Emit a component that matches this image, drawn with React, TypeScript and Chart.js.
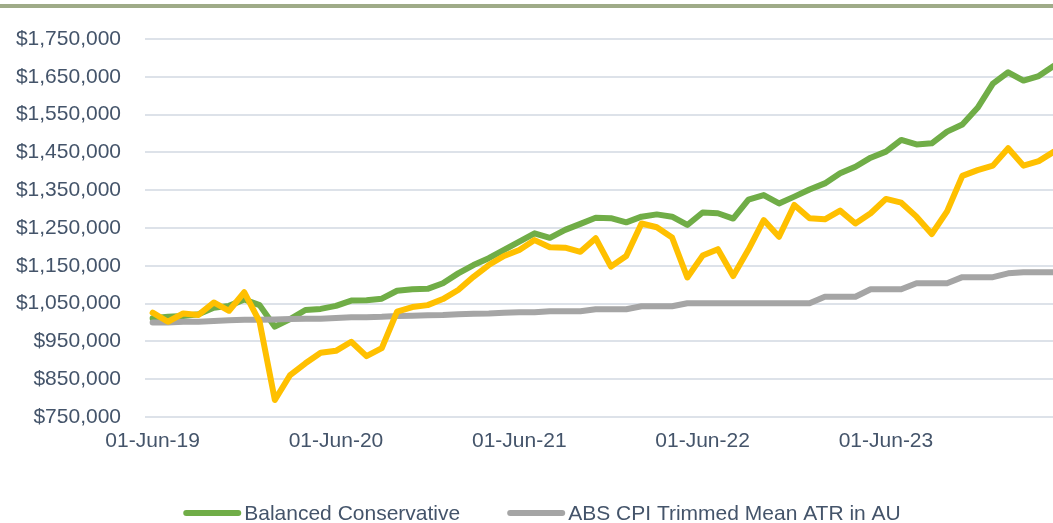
import React, { useEffect, useRef } from 'react';
import { Chart, registerables } from 'chart.js';

Chart.register(...registerables);

const categories = [
  '01-Jun-19', '01-Jul-19', '01-Aug-19', '01-Sep-19', '01-Oct-19', '01-Nov-19', '01-Dec-19',
  '01-Jan-20', '01-Feb-20', '01-Mar-20', '01-Apr-20', '01-May-20', '01-Jun-20', '01-Jul-20',
  '01-Aug-20', '01-Sep-20', '01-Oct-20', '01-Nov-20', '01-Dec-20',
  '01-Jan-21', '01-Feb-21', '01-Mar-21', '01-Apr-21', '01-May-21', '01-Jun-21', '01-Jul-21',
  '01-Aug-21', '01-Sep-21', '01-Oct-21', '01-Nov-21', '01-Dec-21',
  '01-Jan-22', '01-Feb-22', '01-Mar-22', '01-Apr-22', '01-May-22', '01-Jun-22', '01-Jul-22',
  '01-Aug-22', '01-Sep-22', '01-Oct-22', '01-Nov-22', '01-Dec-22',
  '01-Jan-23', '01-Feb-23', '01-Mar-23', '01-Apr-23', '01-May-23', '01-Jun-23', '01-Jul-23',
  '01-Aug-23', '01-Sep-23', '01-Oct-23', '01-Nov-23', '01-Dec-23',
  '01-Jan-24', '01-Feb-24', '01-Mar-24', '01-Apr-24', '01-May-24',
];

const balancedConservative = [
  1011000, 1015000, 1017000, 1022000, 1039000, 1044000, 1061000, 1046000, 989000, 1009000,
  1033000, 1036000, 1044000, 1058000, 1059000, 1063000, 1084000, 1088000, 1089000, 1104000,
  1130000, 1152000, 1170000, 1192000, 1214000, 1236000, 1224000, 1245000, 1261000, 1277000,
  1276000, 1265000, 1280000, 1286000, 1280000, 1258000, 1291000, 1289000, 1275000, 1325000,
  1337000, 1315000, 1333000, 1352000, 1368000, 1395000, 1412000, 1436000, 1452000, 1483000,
  1471000, 1474000, 1505000, 1524000, 1568000, 1632000, 1662000, 1640000, 1652000, 1679000,
];

const growthSeries = [
  1026000, 1002000, 1024000, 1020000, 1053000, 1031000, 1080000, 1002000, 795000, 861000,
  892000, 920000, 925000, 949000, 911000, 932000, 1029000, 1041000, 1046000, 1062000,
  1086000, 1121000, 1152000, 1176000, 1192000, 1218000, 1199000, 1198000, 1187000, 1223000,
  1148000, 1176000, 1262000, 1252000, 1225000, 1119000, 1177000, 1194000, 1123000, 1193000,
  1271000, 1227000, 1311000, 1276000, 1273000, 1296000, 1262000, 1289000, 1327000, 1317000,
  1280000, 1234000, 1294000, 1388000, 1403000, 1415000, 1461000, 1415000, 1427000, 1452000,
];

const cpiTrimmedMean = [
  1000000, 1000000, 1002000, 1002000, 1004000, 1006000, 1007000, 1007000, 1008000, 1009000,
  1010000, 1010000, 1012000, 1014000, 1014000, 1015000, 1017000, 1018000, 1019000, 1020000,
  1022000, 1023000, 1024000, 1026000, 1027000, 1027000, 1030000, 1030000, 1030000, 1035000,
  1035000, 1035000, 1043000, 1043000, 1043000, 1051000, 1051000, 1051000, 1051000, 1051000,
  1051000, 1051000, 1051000, 1051000, 1068000, 1068000, 1068000, 1088000, 1088000, 1088000,
  1104000, 1104000, 1104000, 1120000, 1120000, 1120000, 1130000, 1133000, 1133000, 1133000,
];

const yMin = 750000;
const yMax = 1750000;
const yStep = 100000;

const FONT = '"Liberation Sans", Arial, Helvetica, sans-serif';
const TEXT = '#44546a';

const customLegend = {
  id: 'customLegend',
  afterDraw(chart: any) {
    const ctx = chart.ctx as CanvasRenderingContext2D;
    const items = chart.data.datasets
      .filter((d: any) => d.legendOrder !== undefined)
      .sort((a: any, b: any) => a.legendOrder - b.legendOrder);
    ctx.save();
    ctx.font = `21px ${FONT}`;
    const boxW = 58;
    const boxGap = 3;
    const itemGap = 47;
    const widths = items.map((d: any) => boxW + boxGap + ctx.measureText(d.label).width);
    const total = widths.reduce((a: number, b: number) => a + b, 0) + itemGap * (items.length - 1);
    let x = 542 - total / 2;
    const y = 513;
    items.forEach((d: any, i: number) => {
      ctx.strokeStyle = d.borderColor;
      ctx.lineWidth = 6;
      ctx.lineCap = 'round';
      ctx.beginPath();
      ctx.moveTo(x + 3, y);
      ctx.lineTo(x + boxW - 3, y);
      ctx.stroke();
      ctx.fillStyle = TEXT;
      ctx.textAlign = 'left';
      ctx.textBaseline = 'middle';
      ctx.fillText(d.label, x + boxW + boxGap, y + 1);
      x += widths[i] + itemGap;
    });
    ctx.restore();
  },
};

export default function App() {
  const ref = useRef<HTMLCanvasElement | null>(null);

  useEffect(() => {
    if (!ref.current) return;
    const chart = new Chart(ref.current, {
      type: 'line',
      data: {
        labels: categories,
        datasets: [
          {
            label: 'Growth',
            data: growthSeries,
            borderColor: '#ffc000',
            backgroundColor: '#ffc000',
            borderWidth: 6,
            pointRadius: 0,
            tension: 0,
            borderJoinStyle: 'round',
            borderCapStyle: 'round',
            order: 0,
          } as any,
          {
            label: 'ABS CPI Trimmed Mean ATR in AU',
            data: cpiTrimmedMean,
            borderColor: '#a5a5a5',
            backgroundColor: '#a5a5a5',
            borderWidth: 6,
            pointRadius: 0,
            tension: 0,
            borderJoinStyle: 'round',
            borderCapStyle: 'round',
            order: 1,
            legendOrder: 1,
          } as any,
          {
            label: 'Balanced Conservative',
            data: balancedConservative,
            borderColor: '#70ad47',
            backgroundColor: '#70ad47',
            borderWidth: 6,
            pointRadius: 0,
            tension: 0,
            borderJoinStyle: 'round',
            borderCapStyle: 'round',
            order: 2,
            legendOrder: 0,
          } as any,
        ],
      },
      options: {
        responsive: false,
        animation: false,
        layout: { padding: { top: 39, left: 0, right: 0, bottom: 66 } },
        plugins: {
          legend: { display: false },
          tooltip: { enabled: false },
          title: { display: false },
        },
        scales: {
          x: {
            type: 'category',
            offset: true,
            grid: { display: false, drawTicks: false },
            border: { display: false },
            ticks: {
              autoSkip: false,
              maxRotation: 0,
              minRotation: 0,
              padding: 12,
              color: TEXT,
              font: { family: FONT, size: 21 },
              callback: (_v: any, idx: number) => (idx % 12 === 0 ? categories[idx] : ''),
            },
            afterFit: (axis: any) => {
              axis.height = 40;
            },
          },
          y: {
            min: yMin,
            max: yMax,
            grid: { color: '#dde2e9', lineWidth: 2, drawTicks: false },
            border: { display: false },
            ticks: {
              stepSize: yStep,
              padding: 24,
              color: TEXT,
              font: { family: FONT, size: 21 },
              callback: (v: any) => '$' + Number(v).toLocaleString('en-US'),
            },
            afterFit: (axis: any) => {
              axis.width = 145;
            },
          },
        },
      },
      plugins: [customLegend],
    } as any);
    return () => chart.destroy();
  }, []);

  return (
    <div
      style={{
        position: 'fixed',
        left: 0,
        top: 0,
        width: 1053,
        height: 523,
        overflow: 'hidden',
        background: '#ffffff',
      }}
    >
      <canvas ref={ref} width={1066} height={523} style={{ display: 'block', width: 1066, height: 523 }} />
      <div
        style={{
          position: 'absolute',
          left: 0,
          top: 4,
          width: 1053,
          height: 4,
          background: '#9fab88',
        }}
      />
    </div>
  );
}
